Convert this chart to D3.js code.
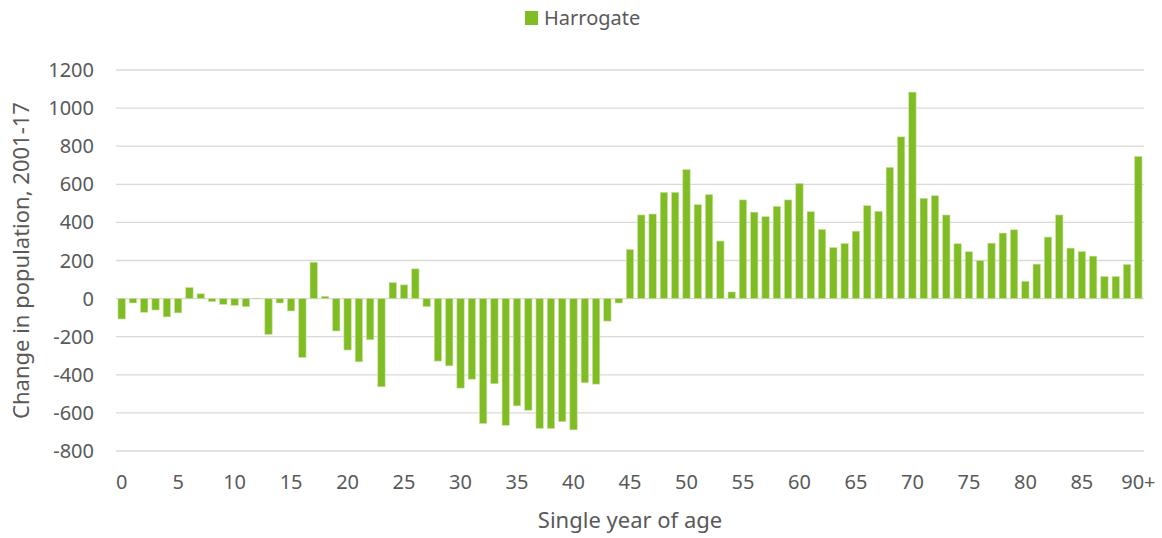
<!DOCTYPE html>
<html>
<head>
<meta charset="utf-8">
<script src="https://cdn.jsdelivr.net/npm/d3@7"></script>
<style>
  body { margin: 0; background: #fff; }
  svg text { font-family: "Noto Sans", sans-serif; fill: #595959; }
</style>
</head>
<body>
<svg id="chart" width="1162" height="538"></svg>
<script>
// change in population 2001-17, single year of age (0 .. 90+)
const ages = d3.range(0, 90).map(String).concat(['90+']);
const harrogate = [
  -107, -23, -72, -60, -96, -75, 58, 25, -16, -30,
  -35, -42, 2, -188, -23, -65, -309, 191, 12, -170,
  -270, -332, -216, -463, 84, 72, 156, -42, -328, -353,
  -470, -423, -656, -447, -665, -563, -586, -681, -682, -646,
  -689, -442, -449, -118, -23, 258, 439, 444, 558, 558,
  677, 493, 546, 302, 35, 518, 454, 430, 484, 518,
  604, 456, 363, 268, 289, 354, 488, 458, 689, 849,
  1084, 526, 540, 439, 288, 246, 200, 291, 344, 361,
  91, 181, 323, 439, 265, 247, 223, 116, 116, 179,
  746
];
const yTicks = [-800, -600, -400, -200, 0, 200, 400, 600, 800, 1000, 1200];
const xTickLabels = ['0', '5', '10', '15', '20', '25', '30', '35', '40', '45',
  '50', '55', '60', '65', '70', '75', '80', '85', '90+'];

const green = '#80bc23';
const svg = d3.select('#chart');
const margin = { left: 116, right: 18, top: 70, bottom: 87 };
const W = 1162, H = 538;

const x = d3.scaleBand().domain(ages)
  .range([margin.left, W - margin.right]).paddingInner(0.35).paddingOuter(0.175);
const y = d3.scaleLinear().domain([-800, 1200])
  .range([H - margin.bottom, margin.top]);

// gridlines
svg.append('g').selectAll('line').data(yTicks).join('line')
  .attr('x1', margin.left).attr('x2', W - margin.right)
  .attr('y1', d => y(d)).attr('y2', d => y(d))
  .attr('stroke', '#d9d9d9').attr('stroke-width', 1.3);

// y tick labels
svg.append('g').selectAll('text').data(yTicks).join('text')
  .attr('x', 94).attr('y', d => y(d)).attr('dy', '0.35em')
  .attr('text-anchor', 'end').attr('font-size', 20)
  .text(d => d);

// bars
svg.append('g').selectAll('rect').data(harrogate).join('rect')
  .attr('x', (d, i) => x(ages[i]))
  .attr('width', x.bandwidth())
  .attr('y', d => y(Math.max(0, d)))
  .attr('height', d => Math.abs(y(d) - y(0)))
  .attr('fill', green)
  .attr('stroke', '#c8e3a0').attr('stroke-width', 0.6);

// x tick labels
svg.append('g').selectAll('text').data(xTickLabels).join('text')
  .attr('x', d => x(d) + x.bandwidth() / 2)
  .attr('y', 489)
  .attr('text-anchor', 'middle').attr('font-size', 20)
  .text(d => d);

// axis titles
svg.append('text')
  .attr('x', 630).attr('y', 528)
  .attr('text-anchor', 'middle').attr('font-size', 22)
  .text('Single year of age');

svg.append('text')
  .attr('transform', 'translate(29,' + y(200) + ') rotate(-90)')
  .attr('text-anchor', 'middle').attr('font-size', 22)
  .text('Change in population, 2001-17');

// legend
const legend = svg.append('g').attr('transform', 'translate(525,11)');
legend.append('rect').attr('width', 13).attr('height', 14).attr('fill', green);
legend.append('text').attr('x', 19).attr('y', 7).attr('dy', '0.35em')
  .attr('font-size', 20).text('Harrogate');
</script>
</body>
</html>
